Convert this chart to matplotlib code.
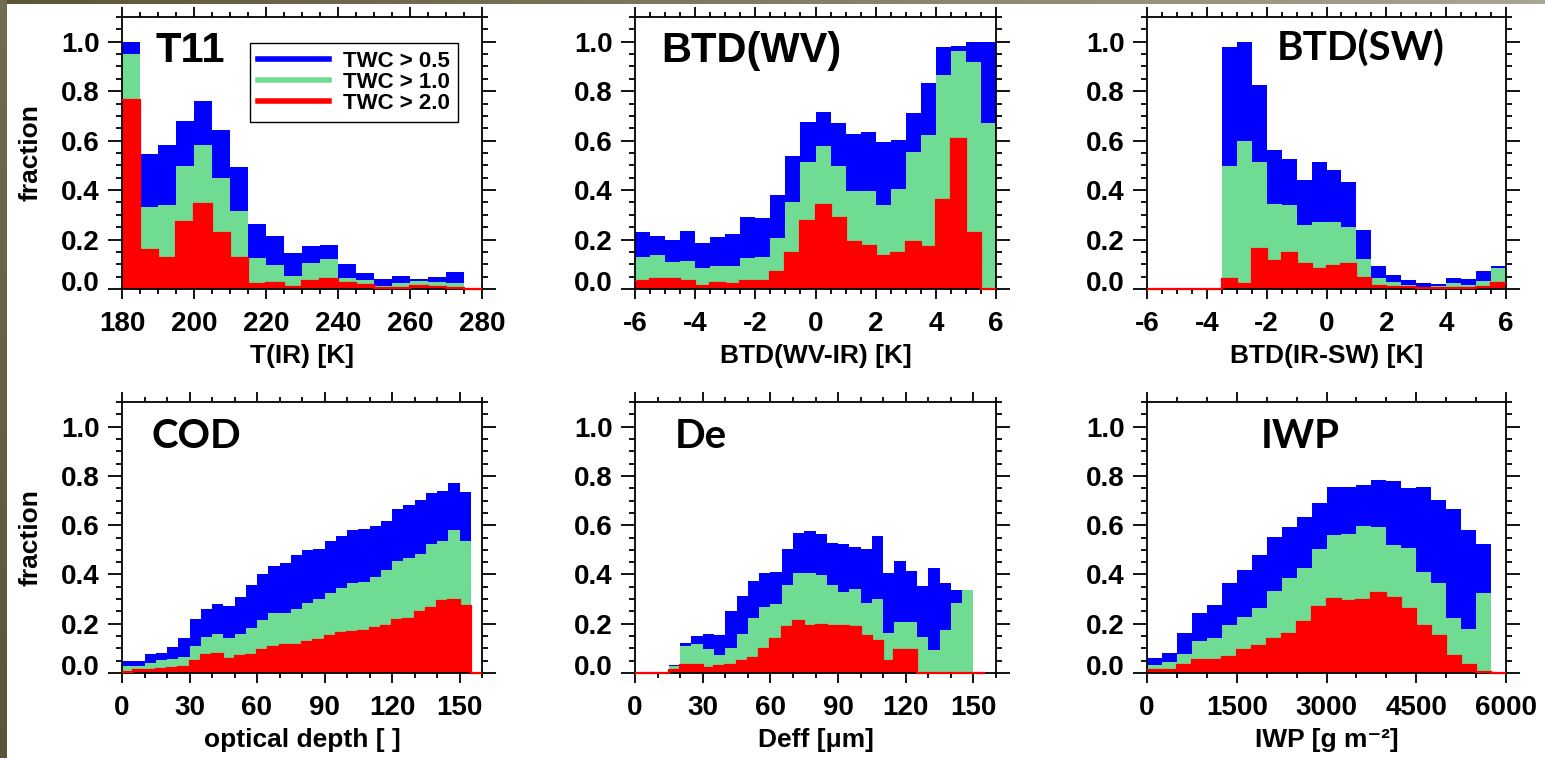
import numpy as np
import matplotlib

matplotlib.use("Agg")
import matplotlib.pyplot as plt  # noqa: E402
from matplotlib.lines import Line2D  # noqa: E402
from matplotlib.ticker import MultipleLocator, FormatStrFormatter  # noqa: E402
from matplotlib.transforms import ScaledTranslation  # noqa: E402

plt.rcParams["font.family"] = ["Liberation Sans", "DejaVu Sans"]
plt.rcParams["font.weight"] = "bold"
plt.rcParams["axes.unicode_minus"] = False

BLUE, GREEN, RED = "#0000FF", "#70DB93", "#FF0000"
LABELS = ["TWC > 0.5", "TWC > 1.0", "TWC > 2.0"]

# --- T11: T(IR) [K], 5 K bins from 180 to 280
t11_edges = np.arange(180, 285, 5)
t11_05 = [1.0, 0.546, 0.584, 0.681, 0.761, 0.642, 0.495, 0.264, 0.215, 0.145,
          0.174, 0.178, 0.100, 0.066, 0.039, 0.053, 0.041, 0.047, 0.070, 0.0]
t11_10 = [0.949, 0.331, 0.338, 0.499, 0.584, 0.449, 0.314, 0.127, 0.097, 0.053,
          0.107, 0.123, 0.043, 0.036, 0.014, 0.023, 0.032, 0.030, 0.026, 0.0]
t11_20 = [0.764, 0.158, 0.127, 0.269, 0.345, 0.226, 0.127, 0.020, 0.026, 0.009,
          0.034, 0.039, 0.023, 0.016, 0.005, 0.005, 0.012, 0.009, 0.003, 0.0]

# --- BTD(WV-IR) [K], 0.5 K bins from -6 to 6
wv_edges = np.arange(-6.0, 6.25, 0.5)
wv_05 = [0.232, 0.216, 0.199, 0.236, 0.188, 0.212, 0.222, 0.291, 0.288, 0.381,
         0.539, 0.674, 0.715, 0.672, 0.627, 0.634, 0.595, 0.604, 0.712, 0.834,
         0.980, 0.982, 1.0, 1.0]
wv_10 = [0.131, 0.138, 0.108, 0.115, 0.086, 0.091, 0.095, 0.127, 0.128, 0.208,
         0.353, 0.512, 0.577, 0.496, 0.397, 0.395, 0.338, 0.404, 0.553, 0.624,
         0.866, 0.962, 0.919, 0.672]
wv_20 = [0.034, 0.039, 0.039, 0.032, 0.014, 0.023, 0.020, 0.032, 0.032, 0.068,
         0.145, 0.276, 0.341, 0.286, 0.189, 0.172, 0.135, 0.147, 0.192, 0.169,
         0.361, 0.607, 0.226, 0.0]

# --- BTD(IR-SW) [K], 0.5 K bins from -6 to 6
sw_edges = np.arange(-6.0, 6.25, 0.5)
sw_05 = [0.0, 0.0, 0.0, 0.0, 0.0, 0.978, 0.999, 0.827, 0.564, 0.527,
         0.442, 0.514, 0.482, 0.432, 0.239, 0.095, 0.057, 0.036, 0.023, 0.020,
         0.043, 0.039, 0.074, 0.091]
sw_10 = [0.0, 0.0, 0.0, 0.0, 0.0, 0.496, 0.597, 0.512, 0.345, 0.341,
         0.258, 0.269, 0.269, 0.249, 0.120, 0.043, 0.027, 0.016, 0.007, 0.014,
         0.023, 0.016, 0.034, 0.084]
sw_20 = [0.0, 0.0, 0.0, 0.0, 0.0, 0.039, 0.019, 0.161, 0.115, 0.145,
         0.100, 0.081, 0.091, 0.100, 0.046, 0.014, 0.009, 0.009, 0.003, 0.003,
         0.005, 0.003, 0.009, 0.026]

# --- COD: optical depth, bins of 5 from 0 to 160
cod_edges = np.arange(0, 165, 5)
cod_05 = [0.047, 0.050, 0.078, 0.083, 0.105, 0.141, 0.218, 0.258, 0.279, 0.272,
          0.307, 0.359, 0.400, 0.433, 0.447, 0.478, 0.498, 0.505, 0.534, 0.555,
          0.579, 0.583, 0.595, 0.619, 0.666, 0.680, 0.704, 0.729, 0.740, 0.770,
          0.733, 0.0]
cod_10 = [0.027, 0.027, 0.040, 0.054, 0.058, 0.065, 0.108, 0.148, 0.159, 0.144,
          0.159, 0.182, 0.215, 0.242, 0.245, 0.258, 0.283, 0.299, 0.326, 0.343,
          0.366, 0.370, 0.390, 0.420, 0.454, 0.467, 0.485, 0.522, 0.536, 0.579,
          0.536, 0.0]
cod_20 = [0.004, 0.011, 0.013, 0.017, 0.020, 0.024, 0.047, 0.073, 0.077, 0.057,
          0.067, 0.073, 0.092, 0.104, 0.114, 0.114, 0.125, 0.132, 0.151, 0.162,
          0.166, 0.171, 0.184, 0.191, 0.215, 0.219, 0.249, 0.265, 0.292, 0.296,
          0.273, 0.0]

# --- De: Deff [um], bins of 5 from 0 to 155
de_edges = np.arange(0, 160, 5)
de_05 = [0.0, 0.0, 0.0, 0.031, 0.121, 0.151, 0.157, 0.155, 0.253, 0.312,
         0.373, 0.406, 0.408, 0.502, 0.568, 0.575, 0.565, 0.529, 0.522, 0.511,
         0.505, 0.555, 0.406, 0.454, 0.415, 0.354, 0.428, 0.366, 0.336, 0.336,
         0.0]
de_10 = [0.0, 0.0, 0.0, 0.027, 0.108, 0.118, 0.098, 0.074, 0.101, 0.157,
         0.225, 0.269, 0.280, 0.359, 0.404, 0.406, 0.397, 0.357, 0.330, 0.341,
         0.283, 0.300, 0.164, 0.209, 0.206, 0.148, 0.092, 0.175, 0.283, 0.336,
         0.0]
de_20 = [0.0, 0.0, 0.0, 0.011, 0.034, 0.031, 0.019, 0.027, 0.032, 0.047,
         0.059, 0.097, 0.139, 0.186, 0.213, 0.191, 0.195, 0.191, 0.192, 0.188,
         0.151, 0.128, 0.050, 0.094, 0.092, 0.0, 0.0, 0.0, 0.0, 0.0,
         0.0]

# --- IWP [g m-2], bins of 250 from 0 to 6000
iwp_edges = np.arange(0, 6250, 250)
iwp_05 = [0.061, 0.083, 0.162, 0.242, 0.276, 0.366, 0.420, 0.479, 0.552, 0.592,
          0.633, 0.690, 0.754, 0.756, 0.764, 0.783, 0.781, 0.750, 0.756, 0.704,
          0.664, 0.582, 0.522, 0.0]
iwp_10 = [0.034, 0.044, 0.078, 0.128, 0.141, 0.195, 0.229, 0.265, 0.332, 0.386,
          0.426, 0.502, 0.559, 0.565, 0.596, 0.594, 0.521, 0.508, 0.411, 0.364,
          0.222, 0.178, 0.323, 0.0]
iwp_20 = [0.013, 0.013, 0.034, 0.054, 0.051, 0.065, 0.092, 0.108, 0.137, 0.159,
          0.206, 0.269, 0.300, 0.292, 0.296, 0.323, 0.303, 0.260, 0.192, 0.151,
          0.067, 0.034, 0.003, 0.0]

PANELS = [
    # edges, series, title, title font, title pos, xlim, major, minor, xlabel
    (t11_edges, (t11_05, t11_10, t11_20), "T11", "Liberation Sans", (0.092, 0.835),
     (180, 280), 20, 5, "T(IR) [K]"),
    (wv_edges, (wv_05, wv_10, wv_20), "BTD(WV)", "Liberation Sans", (0.072, 0.835),
     (-6, 6), 2, 0.5, "BTD(WV-IR) [K]"),
    (sw_edges, (sw_05, sw_10, sw_20), "BTD(SW)", "Lato", (0.362, 0.838),
     (-6, 6), 2, 0.5, "BTD(IR-SW) [K]"),
    (cod_edges, (cod_05, cod_10, cod_20), "COD", "Lato", (0.083, 0.830),
     (0, 160), 30, 10, "optical depth [ ]"),
    (de_edges, (de_05, de_10, de_20), "De", "Lato", (0.111, 0.830),
     (0, 160), 30, 10, "Deff [\u03bcm]"),
    (iwp_edges, (iwp_05, iwp_10, iwp_20), "IWP", "Lato", (0.318, 0.830),
     (0, 6000), 1500, 500, "IWP [g m\u207b\u00b2]"),
]

W, H = 1545, 758
fig = plt.figure(figsize=(W / 100, H / 100), dpi=100)

# olive frame strips of the original slide
top = np.linspace(0, 1, W)[None, :, None]
strip = (1 - top) * np.array([0.36, 0.33, 0.21]) + top * np.array([0.66, 0.65, 0.58])
fig.figimage(np.repeat(strip, 4, axis=0), xo=0, yo=H - 4, zorder=5)
side = np.linspace(0, 1, H)[:, None, None]
left = (1 - side) * np.array([0.45, 0.42, 0.32]) + side * np.array([0.36, 0.33, 0.21])
fig.figimage(np.repeat(left, 7, axis=1), xo=0, yo=0, zorder=5)

cols = [(122, 360), (635, 361), (1147, 359)]
rows = [(17, 289), (402, 673)]

for i, (edges, series, title, tfont, tpos, xlim, major, minor, xlabel) in enumerate(PANELS):
    r, c = divmod(i, 3)
    x0, w = cols[c]
    y0, y1 = rows[r]
    ax = fig.add_axes([x0 / W, 1 - y1 / H, w / W, (y1 - y0) / H])
    left_edges = edges[:-1]
    width = edges[1] - edges[0]
    for vals, col in zip(series, (BLUE, GREEN, RED)):
        ax.bar(left_edges, vals, width=width, align="edge", color=col, lw=0)
    # red outline shows up as a thin line on empty bins, over the axis
    ax.stairs(series[2], edges, color=RED, lw=1.6, baseline=None, zorder=3, clip_on=False)

    ax.set_xlim(*xlim)
    ax.set_ylim(0, 1.1)
    ax.xaxis.set_major_locator(MultipleLocator(major))
    ax.xaxis.set_minor_locator(MultipleLocator(minor))
    ax.set_yticks(np.arange(0, 1.01, 0.2))
    ax.yaxis.set_minor_locator(MultipleLocator(0.05))
    ax.yaxis.set_major_formatter(FormatStrFormatter("%.1f"))
    ax.tick_params(which="both", direction="out", top=True, right=True,
                   width=1.3, labelsize=20)
    ax.tick_params(axis="x", which="major", length=7, pad=9)
    ax.tick_params(axis="x", which="minor", length=3.5)
    ax.tick_params(axis="y", which="major", length=10, pad=6)
    ax.tick_params(axis="y", which="minor", length=4)
    for sp in ax.spines.values():
        sp.set_linewidth(1.3)

    ax.set_xlabel(xlabel, fontsize=19, fontweight="bold", labelpad=5)
    if c == 0:
        ax.set_ylabel("fraction", fontsize=19, fontweight="bold", labelpad=13)

    ax.text(tpos[0], tpos[1], title, transform=ax.transAxes, ha="left",
            va="baseline", fontsize=30 if tfont == "Liberation Sans" else 29,
            fontweight="bold", family=[tfont, "DejaVu Sans"])

    # lift the 0.0 label off the bottom axis
    ticks = ax.yaxis.get_major_ticks()
    lab = ticks[0].label1
    lab.set_transform(lab.get_transform() + ScaledTranslation(0, 8 / 100, fig.dpi_scale_trans))

    if i == 0:
        handles = [Line2D([], [], color=col, lw=4) for col in (BLUE, GREEN, RED)]
        leg = ax.legend(handles, LABELS, loc="upper right", bbox_to_anchor=(0.933, 0.904),
                        borderaxespad=0, fancybox=False, framealpha=1, edgecolor="black",
                        prop={"weight": "bold", "size": 16}, handlelength=3.2,
                        handletextpad=0.65, labelspacing=0.0, borderpad=0.35)
        leg.get_frame().set_linewidth(1.0)

fig.savefig("out.png", dpi=100)
